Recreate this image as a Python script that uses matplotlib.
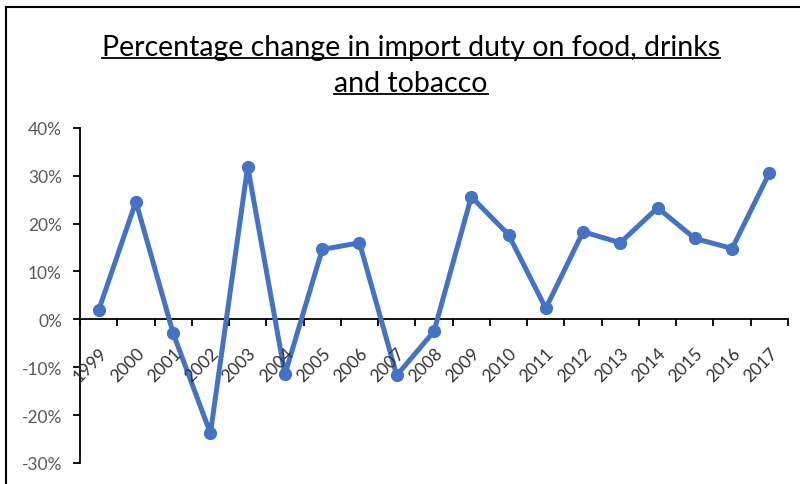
import numpy as np
import matplotlib.pyplot as plt
from matplotlib.lines import Line2D
from matplotlib.ticker import FuncFormatter, FixedLocator

# ---------------- DATA ----------------
years = [str(y) for y in range(1999, 2018)]
pct_change = [1.9, 24.6, -2.9, -23.8, 31.9, -11.5, 14.6, 16.0, -11.7, -2.5,
              25.6, 17.7, 2.3, 18.3, 16.0, 23.3, 16.9, 14.8, 30.6]
y_ticks = [-30, -20, -10, 0, 10, 20, 30, 40]

TITLE_LINES = ["Percentage change in import duty on food, drinks", "and tobacco"]
LINE_COLOR = "#4472C4"
LABEL_COLOR = "#595959"
FONT = ["Lato", "DejaVu Sans"]

fig = plt.figure(figsize=(8, 4.85), dpi=100)
ax = fig.add_axes([0.1, 0.0433, 0.885, 0.691])

x = np.arange(len(years))
ax.plot(x, pct_change, color=LINE_COLOR, lw=3.6, marker="o", ms=8.5,
        solid_joinstyle="round", zorder=3, clip_on=False)

ax.set_xlim(-0.5, len(years) - 0.5)
ax.set_ylim(-30, 40)

# axes look: y axis on left, x axis through zero
for s in ["top", "right"]:
    ax.spines[s].set_visible(False)
ax.spines["bottom"].set_position(("data", 0))
ax.spines["bottom"].set_color("#000000")
ax.spines["left"].set_color("#000000")
ax.spines["bottom"].set_linewidth(1.3)
ax.spines["left"].set_linewidth(1.3)

ax.yaxis.set_major_locator(FixedLocator(y_ticks))
ax.yaxis.set_major_formatter(FuncFormatter(lambda v, p: f"{int(v)}%"))
ax.tick_params(axis="y", direction="out", length=5, width=1.3,
               labelsize=12.5, labelcolor=LABEL_COLOR, pad=8)
for lbl in ax.get_yticklabels():
    lbl.set_family(FONT)

# category ticks between categories, labels at centres
ax.set_xticks(x)
ax.set_xticklabels([])
ax.tick_params(axis="x", which="major", length=0)
ax.set_xticks(np.arange(-0.5, len(years), 1.0), minor=True)
ax.tick_params(axis="x", which="minor", direction="out", length=5, width=1.3)

for xi, yr in zip(x, years):
    ax.annotate(yr, xy=(xi, 0), xycoords="data", xytext=(0, -18),
                textcoords="offset points", rotation=45, ha="right", va="top",
                rotation_mode="anchor", fontsize=12.5, color="#333333",
                family=FONT, annotation_clip=False)

# title with underline
fig.canvas.draw()
renderer = fig.canvas.get_renderer()
title_y = [0.901, 0.827]
for txt, ty in zip(TITLE_LINES, title_y):
    t = fig.text(0.514, ty, txt, ha="center", va="center", fontsize=20.5,
                 color="#000000", family=FONT)
    bb = t.get_window_extent(renderer=renderer).transformed(fig.transFigure.inverted())
    fig.add_artist(Line2D([bb.x0, bb.x1], [bb.y0 + 0.004, bb.y0 + 0.004],
                          color="#000000", lw=1.3, transform=fig.transFigure))

# outer frame (left and top edges visible)
fig.add_artist(Line2D([0.008, 0.008], [0.0, 0.984], color="#000000", lw=1.5,
                      transform=fig.transFigure))
fig.add_artist(Line2D([0.008, 1.0], [0.984, 0.984], color="#000000", lw=1.5,
                      transform=fig.transFigure))

fig.savefig("out.png", dpi=100)
